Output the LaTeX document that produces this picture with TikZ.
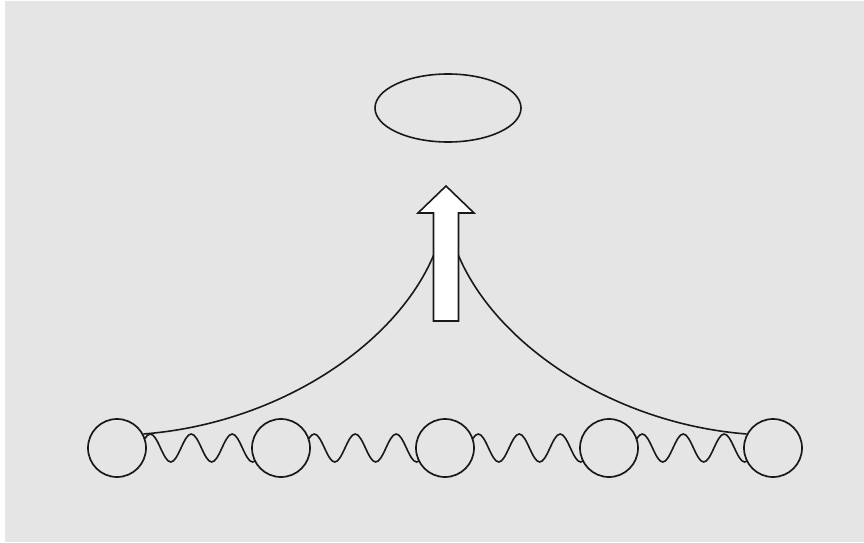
\documentclass[tikz,border=0pt]{standalone}
\usetikzlibrary{shapes.geometric,positioning,decorations.pathmorphing,backgrounds}
\definecolor{bgA}{RGB}{229,229,229}
\definecolor{lineA}{RGB}{25,25,25}

\begin{document}
\begin{tikzpicture}[
  x=1pt, y=1pt,
  node distance=164pt, on grid,
  bead/.style={circle, draw=lineA, fill=bgA, line width=1.7pt,
    minimum size=58pt, inner sep=0pt},
  spring/.style={draw=lineA, line width=1.6pt, decorate,
    decoration={snake, mirror, segment length=40.95pt, amplitude=14pt}},
  bond/.style={draw=lineA, line width=1.6pt},
  blob/.style={ellipse, draw=lineA, line width=1.6pt,
    minimum width=146pt, minimum height=68pt},
  fatarrow/.style={draw=lineA, fill=white, line width=1.6pt, line join=miter},
]
  \node[bead] (b1) at (117,94) {};
  \node[bead, right=of b1] (b2) {};
  \node[bead, right=of b2] (b3) {};
  \node[bead, right=of b3] (b4) {};
  \node[bead, right=of b4] (b5) {};

  \node[blob] (cluster) at (448,434) {};
  \coordinate (apex) at (446,335);

  % springs sit behind the beads
  \begin{scope}[on background layer]
    \fill[white] (0,0) rectangle (864,542);
    \fill[bgA] (5,0) rectangle (864,541);
    \foreach \i/\j in {1/2,2/3,3/4,4/5}
      \draw[spring] (b\i.center) -- (b\j.center);
  \end{scope}

  \draw[bond] (b1.28) .. controls (300,120) and (436,225) .. (apex);
  \draw[bond] (b5.152) .. controls (592,120) and (456,225) .. (apex);

  \draw[fatarrow] (433.5,221) -- (433.5,329) -- (418,329) -- (446,356)
    -- (474,329) -- (458.5,329) -- (458.5,221) -- cycle;
\end{tikzpicture}
\end{document}
